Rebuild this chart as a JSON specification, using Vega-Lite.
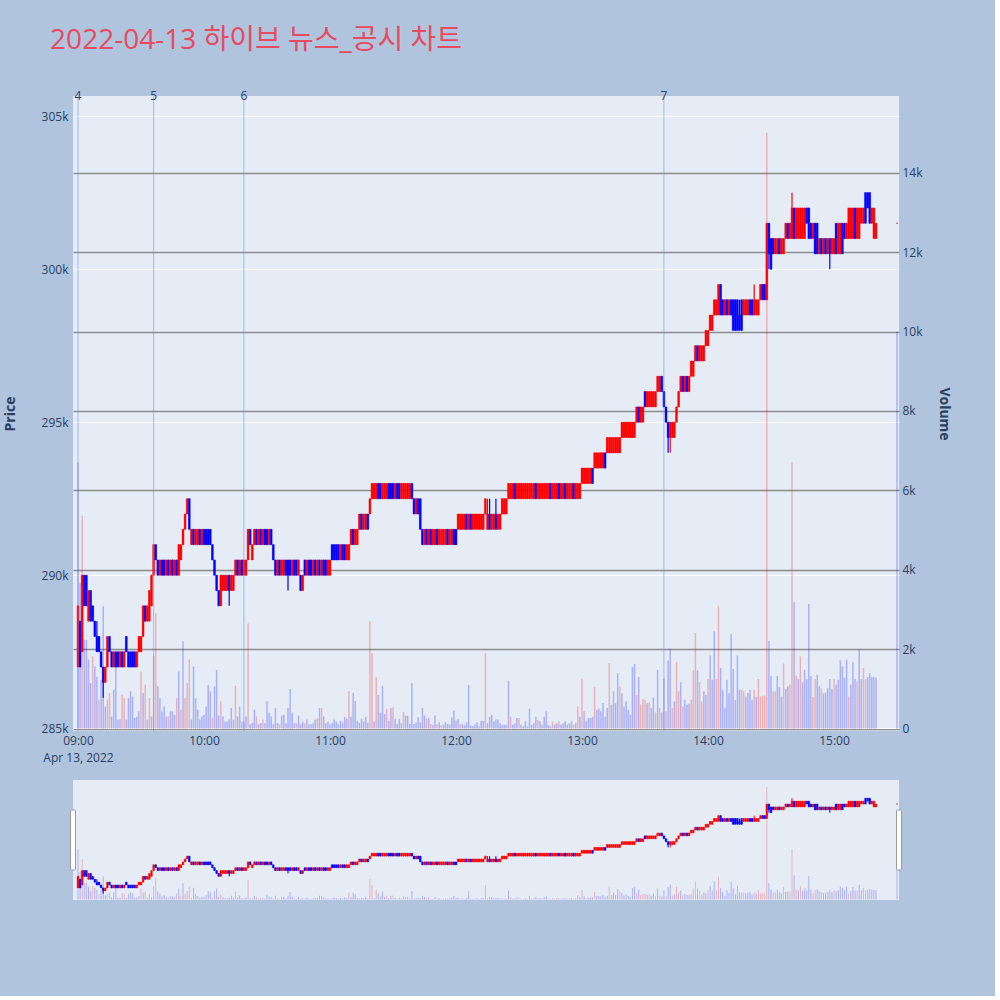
{
"$schema":"https://vega.github.io/schema/vega-lite/v6.json",
"background":"#B0C4DE",
"padding":{"left":3,"top":27,"right":44,"bottom":96},
"title":{"text":"2022-04-13 하이브 뉴스_공시 차트","anchor":"start","dx":47,"offset":35,"fontSize":28,"fontWeight":"normal","font":"Open Sans, Noto Sans CJK KR","color":"#E84A5F"},
"config":{"view":{"stroke":null},"axis":{"labelFont":"Open Sans","titleFont":"Open Sans","labelColor":"#2a3f5f","titleColor":"#2a3f5f","labelFontSize":12}},
"bounds":"flush",
"spacing":49,
"datasets":{
"news":[{"t":"09:00","n":"4"},{"t":"09:36","n":"5"},{"t":"10:19","n":"6"},{"t":"13:39","n":"7"}],
"handles":[{"t":"08:57:37"},{"t":"15:30:57"}],
"k":[
{"t":"09:00","o":287,"h":289,"l":287,"c":289,"v":6700},
{"t":"09:01","o":288.5,"h":288.5,"l":287,"c":287,"v":3660},
{"t":"09:02","o":287.5,"h":290,"l":287.5,"c":290,"v":5360,"u":1},
{"t":"09:03","o":290,"h":290,"l":289,"c":289,"v":2240},
{"t":"09:04","o":290,"h":290,"l":289,"c":289,"v":2240},
{"t":"09:05","o":288.5,"h":289.5,"l":288.5,"c":289.5,"v":1740},
{"t":"09:06","o":289.5,"h":289.5,"l":288.5,"c":288.5,"v":1150},
{"t":"09:07","o":289,"h":289,"l":288.5,"c":288.5,"v":1820,"u":1},
{"t":"09:08","o":288.5,"h":288.5,"l":288,"c":288,"v":1570},
{"t":"09:09","o":288,"h":288.5,"l":287.5,"c":287.5,"v":1310},
{"t":"09:10","o":288,"h":288,"l":287.5,"c":287.5,"v":730,"u":1},
{"t":"09:11","o":287.5,"h":287.5,"l":287,"c":287,"v":1230},
{"t":"09:12","o":287,"h":287,"l":286,"c":286.5,"v":3080},
{"t":"09:13","o":286.5,"h":287,"l":286.5,"c":287,"v":560},
{"t":"09:14","o":287,"h":288,"l":287,"c":288,"v":730,"u":1},
{"t":"09:15","o":288,"h":288,"l":287.5,"c":287.5,"v":900,"u":1},
{"t":"09:16","o":287.5,"h":287.5,"l":287,"c":287,"v":310},
{"t":"09:17","o":287,"h":287.5,"l":287,"c":287.5,"v":980},
{"t":"09:18","o":287.5,"h":287.5,"l":287,"c":287,"v":1570},
{"t":"09:19","o":287.5,"h":287.5,"l":287,"c":287,"v":230},
{"t":"09:20","o":287,"h":287.5,"l":287,"c":287.5,"v":230},
{"t":"09:21","o":287.5,"h":287.5,"l":287,"c":287,"v":860,"u":1},
{"t":"09:22","o":287,"h":287.5,"l":287,"c":287.5,"v":770,"u":1},
{"t":"09:23","o":288,"h":288,"l":287.5,"c":287.5,"v":230},
{"t":"09:24","o":287.5,"h":287.5,"l":287,"c":287,"v":770},
{"t":"09:25","o":287.5,"h":287.5,"l":287,"c":287,"v":940},
{"t":"09:26","o":287.5,"h":287.5,"l":287,"c":287,"v":810},
{"t":"09:27","o":287.5,"h":287.5,"l":287,"c":287,"v":270},
{"t":"09:28","o":287,"h":287.5,"l":287,"c":287.5,"v":310},
{"t":"09:29","o":287.5,"h":288,"l":287.5,"c":288,"v":440},
{"t":"09:30","o":287.5,"h":288,"l":287.5,"c":288,"v":1440,"u":1},
{"t":"09:31","o":288,"h":289,"l":288,"c":289,"v":900},
{"t":"09:32","o":289,"h":289,"l":288.5,"c":288.5,"v":1110,"u":1},
{"t":"09:33","o":288.5,"h":289,"l":288.5,"c":289,"v":230},
{"t":"09:34","o":288.5,"h":289.5,"l":288.5,"c":289.5,"v":770,"u":1},
{"t":"09:35","o":289,"h":290,"l":289,"c":290,"v":310},
{"t":"09:36","o":290,"h":291,"l":290,"c":291,"v":1840,"u":1},
{"t":"09:37","o":291,"h":291,"l":290.5,"c":290.5,"v":2900,"u":1},
{"t":"09:38","o":290.5,"h":290.5,"l":290,"c":290,"v":1070},
{"t":"09:39","o":290,"h":290.5,"l":290,"c":290.5,"v":770},
{"t":"09:40","o":290.5,"h":290.5,"l":290,"c":290,"v":440},
{"t":"09:41","o":290.5,"h":290.5,"l":290,"c":290,"v":560},
{"t":"09:42","o":290,"h":290.5,"l":290,"c":290.5,"v":310},
{"t":"09:43","o":290.5,"h":290.5,"l":290,"c":290,"v":310,"u":1},
{"t":"09:44","o":290,"h":290.5,"l":290,"c":290.5,"v":440},
{"t":"09:45","o":290.5,"h":290.5,"l":290,"c":290,"v":440},
{"t":"09:46","o":290,"h":290.5,"l":290,"c":290.5,"v":350},
{"t":"09:47","o":290.5,"h":290.5,"l":290,"c":290,"v":770,"u":1},
{"t":"09:48","o":290,"h":291,"l":290,"c":291,"v":1440},
{"t":"09:49","o":290.5,"h":291,"l":290.5,"c":291,"v":480,"u":1},
{"t":"09:50","o":291,"h":291.5,"l":291,"c":291.5,"v":2200},
{"t":"09:51","o":291.5,"h":292,"l":291.5,"c":292,"v":770,"u":1},
{"t":"09:52","o":292,"h":292.5,"l":292,"c":292.5,"v":1150,"u":1},
{"t":"09:53","o":292.5,"h":292.5,"l":291.5,"c":291.5,"v":1740,"u":1},
{"t":"09:54","o":291,"h":291.5,"l":291,"c":291.5,"v":230},
{"t":"09:55","o":291.5,"h":291.5,"l":291,"c":291,"v":1570},
{"t":"09:56","o":291,"h":291.5,"l":291,"c":291.5,"v":770},
{"t":"09:57","o":291,"h":291.5,"l":291,"c":291.5,"v":480},
{"t":"09:58","o":291.5,"h":291.5,"l":291,"c":291,"v":230},
{"t":"09:59","o":291,"h":291.5,"l":291,"c":291.5,"v":310},
{"t":"10:00","o":291.5,"h":291.5,"l":291,"c":291,"v":350},
{"t":"10:01","o":291.5,"h":291.5,"l":291,"c":291,"v":560},
{"t":"10:02","o":291.5,"h":291.5,"l":291,"c":291,"v":1100},
{"t":"10:03","o":291.5,"h":291.5,"l":291,"c":291,"v":940},
{"t":"10:04","o":291,"h":291,"l":290.5,"c":290.5,"v":270,"u":1},
{"t":"10:05","o":290.5,"h":290.5,"l":290,"c":290,"v":1060},
{"t":"10:06","o":290,"h":290,"l":289.5,"c":289.5,"v":1480},
{"t":"10:07","o":289.5,"h":289.5,"l":289,"c":289,"v":330},
{"t":"10:08","o":289,"h":290,"l":289,"c":290,"v":690,"u":1},
{"t":"10:09","o":289.5,"h":290,"l":289.5,"c":290,"v":310},
{"t":"10:10","o":289.5,"h":290,"l":289.5,"c":290,"v":180},
{"t":"10:11","o":289.5,"h":290,"l":289.5,"c":290,"v":180},
{"t":"10:12","o":290,"h":290,"l":289,"c":289.5,"v":230},
{"t":"10:13","o":289.5,"h":290,"l":289.5,"c":290,"v":520},
{"t":"10:14","o":289.5,"h":290,"l":289.5,"c":290,"v":230},
{"t":"10:15","o":290,"h":290.5,"l":290,"c":290.5,"v":1080,"u":1},
{"t":"10:16","o":290.5,"h":290.5,"l":290,"c":290,"v":310},
{"t":"10:17","o":290,"h":290.5,"l":290,"c":290.5,"v":560},
{"t":"10:18","o":290.5,"h":290.5,"l":290,"c":290,"v":180},
{"t":"10:19","o":290,"h":290.5,"l":290,"c":290.5,"v":180},
{"t":"10:20","o":290,"h":290.5,"l":290,"c":290.5,"v":310},
{"t":"10:21","o":290.5,"h":291.5,"l":290.5,"c":291.5,"v":2650,"u":1},
{"t":"10:22","o":291.5,"h":291.5,"l":291,"c":291,"v":110},
{"t":"10:23","o":290.5,"h":291,"l":290.5,"c":291,"v":140},
{"t":"10:24","o":291,"h":291.5,"l":291,"c":291.5,"v":480},
{"t":"10:25","o":291.5,"h":291.5,"l":291,"c":291,"v":310,"u":1},
{"t":"10:26","o":291,"h":291.5,"l":291,"c":291.5,"v":110},
{"t":"10:27","o":291.5,"h":291.5,"l":291,"c":291,"v":140},
{"t":"10:28","o":291,"h":291.5,"l":291,"c":291.5,"v":230,"u":1},
{"t":"10:29","o":291.5,"h":291.5,"l":291,"c":291,"v":140},
{"t":"10:30","o":291.5,"h":291.5,"l":291,"c":291,"v":690},
{"t":"10:31","o":291,"h":291.5,"l":291,"c":291.5,"v":400},
{"t":"10:32","o":291.5,"h":291.5,"l":291,"c":291,"v":310},
{"t":"10:33","o":291,"h":291,"l":290.5,"c":290.5,"v":110},
{"t":"10:34","o":290.5,"h":290.5,"l":290,"c":290,"v":520},
{"t":"10:35","o":290,"h":290.5,"l":290,"c":290.5,"v":140},
{"t":"10:36","o":290.5,"h":290.5,"l":290,"c":290,"v":110,"u":1},
{"t":"10:37","o":290,"h":290.5,"l":290,"c":290.5,"v":330},
{"t":"10:38","o":290,"h":290.5,"l":290,"c":290.5,"v":350},
{"t":"10:39","o":290.5,"h":290.5,"l":290,"c":290,"v":140},
{"t":"10:40","o":290.5,"h":290.5,"l":289.5,"c":290,"v":520},
{"t":"10:41","o":290.5,"h":290.5,"l":290,"c":290,"v":1000},
{"t":"10:42","o":290,"h":290.5,"l":290,"c":290.5,"v":400},
{"t":"10:43","o":290.5,"h":290.5,"l":290,"c":290,"v":140},
{"t":"10:44","o":290.5,"h":290.5,"l":290,"c":290,"v":140,"u":1},
{"t":"10:45","o":290,"h":290.5,"l":290,"c":290.5,"v":330},
{"t":"10:46","o":290,"h":290,"l":289.5,"c":289.5,"v":110},
{"t":"10:47","o":289.5,"h":290,"l":289.5,"c":290,"v":180},
{"t":"10:48","o":290.5,"h":290.5,"l":290,"c":290,"v":140,"u":1},
{"t":"10:49","o":290,"h":290.5,"l":290,"c":290.5,"v":230},
{"t":"10:50","o":290.5,"h":290.5,"l":290,"c":290,"v":110},
{"t":"10:51","o":290.5,"h":290.5,"l":290,"c":290,"v":110},
{"t":"10:52","o":290,"h":290.5,"l":290,"c":290.5,"v":140},
{"t":"10:53","o":290.5,"h":290.5,"l":290,"c":290,"v":230},
{"t":"10:54","o":290,"h":290.5,"l":290,"c":290.5,"v":260,"u":1},
{"t":"10:55","o":290.5,"h":290.5,"l":290,"c":290,"v":520},
{"t":"10:56","o":290,"h":290.5,"l":290,"c":290.5,"v":520,"u":1},
{"t":"10:57","o":290.5,"h":290.5,"l":290,"c":290,"v":310},
{"t":"10:58","o":290.5,"h":290.5,"l":290,"c":290,"v":140},
{"t":"10:59","o":290,"h":290.5,"l":290,"c":290.5,"v":180},
{"t":"11:00","o":290,"h":290.5,"l":290,"c":290.5,"v":110},
{"t":"11:01","o":291,"h":291,"l":290.5,"c":290.5,"v":140},
{"t":"11:02","o":291,"h":291,"l":290.5,"c":290.5,"v":230},
{"t":"11:03","o":291,"h":291,"l":290.5,"c":290.5,"v":180},
{"t":"11:04","o":291,"h":291,"l":290.5,"c":290.5,"v":110},
{"t":"11:05","o":290.5,"h":291,"l":290.5,"c":291,"v":200},
{"t":"11:06","o":291,"h":291,"l":290.5,"c":290.5,"v":150},
{"t":"11:07","o":291,"h":291,"l":290.5,"c":290.5,"v":300},
{"t":"11:08","o":290.5,"h":291,"l":290.5,"c":291,"v":250},
{"t":"11:09","o":290.5,"h":291,"l":290.5,"c":291,"v":950,"u":1},
{"t":"11:10","o":291,"h":291.5,"l":291,"c":291.5,"v":300},
{"t":"11:11","o":291.5,"h":291.5,"l":291,"c":291,"v":900},
{"t":"11:12","o":291,"h":291.5,"l":291,"c":291.5,"v":700},
{"t":"11:13","o":291,"h":291.5,"l":291,"c":291.5,"v":200},
{"t":"11:14","o":291.5,"h":292,"l":291.5,"c":292,"v":150},
{"t":"11:15","o":292,"h":292,"l":291.5,"c":291.5,"v":250},
{"t":"11:16","o":291.5,"h":292,"l":291.5,"c":292,"v":180},
{"t":"11:17","o":291.5,"h":292,"l":291.5,"c":292,"v":300},
{"t":"11:18","o":292,"h":292,"l":291.5,"c":291.5,"v":150},
{"t":"11:19","o":292,"h":292.5,"l":292,"c":292.5,"v":2700,"u":1},
{"t":"11:20","o":292.5,"h":293,"l":292.5,"c":293,"v":1900,"u":1},
{"t":"11:21","o":292.5,"h":293,"l":292.5,"c":293,"v":180},
{"t":"11:22","o":292.5,"h":293,"l":292.5,"c":293,"v":1300,"u":1},
{"t":"11:23","o":293,"h":293,"l":292.5,"c":292.5,"v":850},
{"t":"11:24","o":293,"h":293,"l":292.5,"c":292.5,"v":400},
{"t":"11:25","o":292.5,"h":293,"l":292.5,"c":293,"v":1070},
{"t":"11:26","o":292.5,"h":293,"l":292.5,"c":293,"v":370},
{"t":"11:27","o":292.5,"h":293,"l":292.5,"c":293,"v":500,"u":1},
{"t":"11:28","o":293,"h":293,"l":292.5,"c":292.5,"v":200},
{"t":"11:29","o":293,"h":293,"l":292.5,"c":292.5,"v":520},
{"t":"11:30","o":293,"h":293,"l":292.5,"c":292.5,"v":540,"u":1},
{"t":"11:31","o":292.5,"h":293,"l":292.5,"c":293,"v":250},
{"t":"11:32","o":293,"h":293,"l":292.5,"c":292.5,"v":120},
{"t":"11:33","o":293,"h":293,"l":292.5,"c":292.5,"v":250},
{"t":"11:34","o":292.5,"h":293,"l":292.5,"c":293,"v":140},
{"t":"11:35","o":292.5,"h":293,"l":292.5,"c":293,"v":420,"u":1},
{"t":"11:36","o":292.5,"h":293,"l":292.5,"c":293,"v":330},
{"t":"11:37","o":292.5,"h":293,"l":292.5,"c":293,"v":330},
{"t":"11:38","o":292.5,"h":293,"l":292.5,"c":293,"v":120},
{"t":"11:39","o":293,"h":293,"l":292.5,"c":292.5,"v":1150},
{"t":"11:40","o":292.5,"h":292.5,"l":292,"c":292,"v":120},
{"t":"11:41","o":292,"h":292.5,"l":292,"c":292.5,"v":160},
{"t":"11:42","o":292.5,"h":292.5,"l":292,"c":292,"v":290},
{"t":"11:43","o":292.5,"h":292.5,"l":291.5,"c":291.5,"v":160},
{"t":"11:44","o":291.5,"h":291.5,"l":291,"c":291,"v":520},
{"t":"11:45","o":291,"h":291.5,"l":291,"c":291.5,"v":330},
{"t":"11:46","o":291.5,"h":291.5,"l":291,"c":291,"v":250,"u":1},
{"t":"11:47","o":291,"h":291.5,"l":291,"c":291.5,"v":270},
{"t":"11:48","o":291.5,"h":291.5,"l":291,"c":291,"v":120,"u":1},
{"t":"11:49","o":291,"h":291.5,"l":291,"c":291.5,"v":90},
{"t":"11:50","o":291,"h":291.5,"l":291,"c":291.5,"v":340},
{"t":"11:51","o":291.5,"h":291.5,"l":291,"c":291,"v":110,"u":1},
{"t":"11:52","o":291,"h":291.5,"l":291,"c":291.5,"v":160},
{"t":"11:53","o":291,"h":291.5,"l":291,"c":291.5,"v":90,"u":1},
{"t":"11:54","o":291,"h":291.5,"l":291,"c":291.5,"v":110},
{"t":"11:55","o":291,"h":291.5,"l":291,"c":291.5,"v":160},
{"t":"11:56","o":291.5,"h":291.5,"l":291,"c":291,"v":120},
{"t":"11:57","o":291,"h":291.5,"l":291,"c":291.5,"v":110},
{"t":"11:58","o":291,"h":291.5,"l":291,"c":291.5,"v":280},
{"t":"11:59","o":291.5,"h":291.5,"l":291,"c":291,"v":460},
{"t":"12:00","o":291.5,"h":291.5,"l":291,"c":291,"v":200},
{"t":"12:01","o":291.5,"h":292,"l":291.5,"c":292,"v":240},
{"t":"12:02","o":291.5,"h":292,"l":291.5,"c":292,"v":110,"u":1},
{"t":"12:03","o":291.5,"h":292,"l":291.5,"c":292,"v":120},
{"t":"12:04","o":291.5,"h":292,"l":291.5,"c":292,"v":90},
{"t":"12:05","o":292,"h":292,"l":291.5,"c":291.5,"v":160},
{"t":"12:06","o":291.5,"h":292,"l":291.5,"c":292,"v":1100},
{"t":"12:07","o":292,"h":292,"l":291.5,"c":291.5,"v":80},
{"t":"12:08","o":291.5,"h":292,"l":291.5,"c":292,"v":60},
{"t":"12:09","o":291.5,"h":292,"l":291.5,"c":292,"v":110},
{"t":"12:10","o":291.5,"h":292,"l":291.5,"c":292,"v":160},
{"t":"12:11","o":291.5,"h":292,"l":291.5,"c":292,"v":60},
{"t":"12:12","o":291.5,"h":292,"l":291.5,"c":292,"v":200},
{"t":"12:13","o":291.5,"h":292,"l":291.5,"c":292,"v":200},
{"t":"12:14","o":292,"h":292.5,"l":292,"c":292.5,"v":1900,"u":1},
{"t":"12:15","o":291.5,"h":292.5,"l":291.5,"c":292,"v":140},
{"t":"12:16","o":292,"h":292.5,"l":291.5,"c":291.5,"v":300},
{"t":"12:17","o":291.5,"h":292,"l":291.5,"c":292,"v":350},
{"t":"12:18","o":291.5,"h":292,"l":291.5,"c":292,"v":190},
{"t":"12:19","o":292,"h":292.5,"l":291.5,"c":291.5,"v":230},
{"t":"12:20","o":291.5,"h":292,"l":291.5,"c":292,"v":230},
{"t":"12:21","o":291.5,"h":292,"l":291.5,"c":292,"v":140},
{"t":"12:22","o":292,"h":292.5,"l":292,"c":292.5,"v":100},
{"t":"12:23","o":292,"h":292.5,"l":292,"c":292.5,"v":100},
{"t":"12:24","o":292,"h":292.5,"l":292,"c":292.5,"v":100},
{"t":"12:25","o":292.5,"h":293,"l":292.5,"c":293,"v":1200},
{"t":"12:26","o":292.5,"h":293,"l":292.5,"c":293,"v":300,"u":1},
{"t":"12:27","o":292.5,"h":293,"l":292.5,"c":293,"v":100},
{"t":"12:28","o":293,"h":293,"l":292.5,"c":292.5,"v":140},
{"t":"12:29","o":292.5,"h":293,"l":292.5,"c":293,"v":270},
{"t":"12:30","o":292.5,"h":293,"l":292.5,"c":293,"v":270,"u":1},
{"t":"12:31","o":292.5,"h":293,"l":292.5,"c":293,"v":100},
{"t":"12:32","o":292.5,"h":293,"l":292.5,"c":293,"v":60},
{"t":"12:33","o":292.5,"h":293,"l":292.5,"c":293,"v":190},
{"t":"12:34","o":292.5,"h":293,"l":292.5,"c":293,"v":60},
{"t":"12:35","o":292.5,"h":293,"l":292.5,"c":293,"v":510},
{"t":"12:36","o":292.5,"h":293,"l":292.5,"c":293,"v":100},
{"t":"12:37","o":292.5,"h":293,"l":292.5,"c":293,"v":140},
{"t":"12:38","o":293,"h":293,"l":292.5,"c":292.5,"v":300},
{"t":"12:39","o":292.5,"h":293,"l":292.5,"c":293,"v":220,"u":1},
{"t":"12:40","o":292.5,"h":293,"l":292.5,"c":293,"v":190},
{"t":"12:41","o":292.5,"h":293,"l":292.5,"c":293,"v":100},
{"t":"12:42","o":292.5,"h":293,"l":292.5,"c":293,"v":300},
{"t":"12:43","o":292.5,"h":293,"l":292.5,"c":293,"v":440},
{"t":"12:44","o":292.5,"h":293,"l":292.5,"c":293,"v":100},
{"t":"12:45","o":293,"h":293,"l":292.5,"c":292.5,"v":60},
{"t":"12:46","o":292.5,"h":293,"l":292.5,"c":293,"v":190,"u":1},
{"t":"12:47","o":292.5,"h":293,"l":292.5,"c":293,"v":100},
{"t":"12:48","o":292.5,"h":293,"l":292.5,"c":293,"v":140},
{"t":"12:49","o":293,"h":293,"l":292.5,"c":292.5,"v":190,"u":1},
{"t":"12:50","o":292.5,"h":293,"l":292.5,"c":293,"v":100},
{"t":"12:51","o":292.5,"h":293,"l":292.5,"c":293,"v":140},
{"t":"12:52","o":293,"h":293,"l":292.5,"c":292.5,"v":190},
{"t":"12:53","o":292.5,"h":293,"l":292.5,"c":293,"v":100},
{"t":"12:54","o":292.5,"h":293,"l":292.5,"c":293,"v":140},
{"t":"12:55","o":292.5,"h":293,"l":292.5,"c":293,"v":190},
{"t":"12:56","o":293,"h":293,"l":292.5,"c":292.5,"v":100,"u":1},
{"t":"12:57","o":292.5,"h":293,"l":292.5,"c":293,"v":140},
{"t":"12:58","o":292.5,"h":293,"l":292.5,"c":293,"v":560,"u":1},
{"t":"12:59","o":292.5,"h":293,"l":292.5,"c":293,"v":300},
{"t":"13:00","o":293,"h":293.5,"l":293,"c":293.5,"v":1260,"u":1},
{"t":"13:01","o":293,"h":293.5,"l":293,"c":293.5,"v":440},
{"t":"13:02","o":293,"h":293.5,"l":293,"c":293.5,"v":190},
{"t":"13:03","o":293,"h":293.5,"l":293,"c":293.5,"v":270},
{"t":"13:04","o":293,"h":293.5,"l":293,"c":293.5,"v":270},
{"t":"13:05","o":293.5,"h":293.5,"l":293,"c":293,"v":300},
{"t":"13:06","o":293.5,"h":294,"l":293.5,"c":294,"v":1050,"u":1},
{"t":"13:07","o":293.5,"h":294,"l":293.5,"c":294,"v":470},
{"t":"13:08","o":293.5,"h":294,"l":293.5,"c":294,"v":510},
{"t":"13:09","o":293.5,"h":294,"l":293.5,"c":294,"v":440},
{"t":"13:10","o":293.5,"h":294,"l":293.5,"c":294,"v":650},
{"t":"13:11","o":294,"h":294,"l":293.5,"c":293.5,"v":300},
{"t":"13:12","o":294,"h":294.5,"l":294,"c":294.5,"v":520},
{"t":"13:13","o":294,"h":294.5,"l":294,"c":294.5,"v":1650,"u":1},
{"t":"13:14","o":294,"h":294.5,"l":294,"c":294.5,"v":600},
{"t":"13:15","o":294,"h":294.5,"l":294,"c":294.5,"v":940},
{"t":"13:16","o":294,"h":294.5,"l":294,"c":294.5,"v":640},
{"t":"13:17","o":294,"h":294.5,"l":294,"c":294.5,"v":1400},
{"t":"13:18","o":294,"h":294.5,"l":294,"c":294.5,"v":1060,"u":1},
{"t":"13:19","o":294.5,"h":295,"l":294.5,"c":295,"v":890},
{"t":"13:20","o":294.5,"h":295,"l":294.5,"c":295,"v":560},
{"t":"13:21","o":294.5,"h":295,"l":294.5,"c":295,"v":690},
{"t":"13:22","o":294.5,"h":295,"l":294.5,"c":295,"v":480},
{"t":"13:23","o":294.5,"h":295,"l":294.5,"c":295,"v":350},
{"t":"13:24","o":294.5,"h":295,"l":294.5,"c":295,"v":1550},
{"t":"13:25","o":294.5,"h":295,"l":294.5,"c":295,"v":1630},
{"t":"13:26","o":295,"h":295.5,"l":295,"c":295.5,"v":850,"u":1},
{"t":"13:27","o":295.5,"h":295.5,"l":295,"c":295,"v":1300},
{"t":"13:28","o":295,"h":295.5,"l":295,"c":295.5,"v":600,"u":1},
{"t":"13:29","o":295,"h":295.5,"l":295,"c":295.5,"v":750,"u":1},
{"t":"13:30","o":296,"h":296,"l":295.5,"c":295.5,"v":730,"u":1},
{"t":"13:31","o":295.5,"h":296,"l":295.5,"c":296,"v":650},
{"t":"13:32","o":295.5,"h":296,"l":295.5,"c":296,"v":660,"u":1},
{"t":"13:33","o":295.5,"h":296,"l":295.5,"c":296,"v":520},
{"t":"13:34","o":295.5,"h":296,"l":295.5,"c":296,"v":790},
{"t":"13:35","o":295.5,"h":296,"l":295.5,"c":296,"v":410,"u":1},
{"t":"13:36","o":296,"h":296.5,"l":296,"c":296.5,"v":1480},
{"t":"13:37","o":296,"h":296.5,"l":296,"c":296.5,"v":520,"u":1},
{"t":"13:38","o":296.5,"h":296.5,"l":296,"c":296,"v":410},
{"t":"13:39","o":296,"h":296,"l":295.5,"c":295.5,"v":1250},
{"t":"13:40","o":295.5,"h":295.5,"l":295,"c":295,"v":440,"u":1},
{"t":"13:41","o":295,"h":295,"l":294,"c":294.5,"v":1720},
{"t":"13:42","o":294.5,"h":295,"l":294,"c":295,"v":2010},
{"t":"13:43","o":294.5,"h":295,"l":294.5,"c":295,"v":520,"u":1},
{"t":"13:44","o":294.5,"h":295,"l":294.5,"c":295,"v":690},
{"t":"13:45","o":295,"h":295.5,"l":295,"c":295.5,"v":1670,"u":1},
{"t":"13:46","o":295.5,"h":296,"l":295.5,"c":296,"v":940,"u":1},
{"t":"13:47","o":296,"h":296.5,"l":296,"c":296.5,"v":1170},
{"t":"13:48","o":296.5,"h":296.5,"l":296,"c":296,"v":560,"u":1},
{"t":"13:49","o":296,"h":296.5,"l":296,"c":296.5,"v":730},
{"t":"13:50","o":296.5,"h":296.5,"l":296,"c":296,"v":600},
{"t":"13:51","o":296,"h":296.5,"l":296,"c":296.5,"v":630},
{"t":"13:52","o":296.5,"h":297,"l":296.5,"c":297,"v":730,"u":1},
{"t":"13:53","o":296.5,"h":297,"l":296.5,"c":297,"v":1470,"u":1},
{"t":"13:54","o":297,"h":297.5,"l":297,"c":297.5,"v":2410,"u":1},
{"t":"13:55","o":297.5,"h":297.5,"l":297,"c":297,"v":1470},
{"t":"13:56","o":297,"h":297.5,"l":297,"c":297.5,"v":1170,"u":1},
{"t":"13:57","o":297,"h":297.5,"l":297,"c":297.5,"v":690,"u":1},
{"t":"13:58","o":297,"h":297.5,"l":297,"c":297.5,"v":940},
{"t":"13:59","o":297.5,"h":298,"l":297.5,"c":298,"v":850},
{"t":"14:00","o":297.5,"h":298,"l":297.5,"c":298,"v":1250,"u":1},
{"t":"14:01","o":298,"h":298.5,"l":298,"c":298.5,"v":1840},
{"t":"14:02","o":298,"h":298.5,"l":298,"c":298.5,"v":1230},
{"t":"14:03","o":298.5,"h":299,"l":298.5,"c":299,"v":2450},
{"t":"14:04","o":298.5,"h":299,"l":298.5,"c":299,"v":1250,"u":1},
{"t":"14:05","o":298.5,"h":299.5,"l":298.5,"c":299.5,"v":3080,"u":1},
{"t":"14:06","o":299.5,"h":299.5,"l":298.5,"c":298.5,"v":1530},
{"t":"14:07","o":299,"h":299,"l":298.5,"c":298.5,"v":980},
{"t":"14:08","o":298.5,"h":299,"l":298.5,"c":299,"v":520},
{"t":"14:09","o":299,"h":299,"l":298.5,"c":298.5,"v":1230},
{"t":"14:10","o":298.5,"h":299,"l":298.5,"c":299,"v":890},
{"t":"14:11","o":299,"h":299,"l":298.5,"c":298.5,"v":2380},
{"t":"14:12","o":299,"h":299,"l":298,"c":298,"v":1500},
{"t":"14:13","o":299,"h":299,"l":298,"c":298,"v":720},
{"t":"14:14","o":299,"h":299,"l":298,"c":298,"v":1840},
{"t":"14:15","o":298.5,"h":299,"l":298,"c":298,"v":980},
{"t":"14:16","o":299,"h":299,"l":298,"c":298,"v":980,"u":1},
{"t":"14:17","o":298.5,"h":299,"l":298.5,"c":299,"v":940,"u":1},
{"t":"14:18","o":298.5,"h":299,"l":298.5,"c":299,"v":810},
{"t":"14:19","o":298.5,"h":299,"l":298.5,"c":299,"v":900},
{"t":"14:20","o":299,"h":299,"l":298.5,"c":298.5,"v":980},
{"t":"14:21","o":299,"h":299,"l":298.5,"c":298.5,"v":720},
{"t":"14:22","o":298.5,"h":299.5,"l":298.5,"c":299,"v":980,"u":1},
{"t":"14:23","o":298.5,"h":299,"l":298.5,"c":299,"v":800},
{"t":"14:24","o":298.5,"h":299,"l":298.5,"c":299,"v":1250,"u":1},
{"t":"14:25","o":299,"h":299.5,"l":299,"c":299.5,"v":810,"u":1},
{"t":"14:26","o":299.5,"h":299.5,"l":299,"c":299,"v":830,"u":1},
{"t":"14:27","o":299.5,"h":299.5,"l":299,"c":299,"v":830,"u":1},
{"t":"14:28","o":299,"h":301.5,"l":299,"c":301.5,"v":15000,"u":1},
{"t":"14:29","o":301.5,"h":301.5,"l":300,"c":300.5,"v":2210},
{"t":"14:30","o":301,"h":301,"l":300,"c":300,"v":1330},
{"t":"14:31","o":301,"h":301,"l":300.5,"c":300.5,"v":940,"u":1},
{"t":"14:32","o":300.5,"h":301,"l":300.5,"c":301,"v":940,"u":1},
{"t":"14:33","o":300.5,"h":301,"l":300.5,"c":301,"v":1330},
{"t":"14:34","o":301,"h":301,"l":300.5,"c":300.5,"v":1040},
{"t":"14:35","o":300.5,"h":301,"l":300.5,"c":301,"v":810},
{"t":"14:36","o":300.5,"h":301,"l":300.5,"c":301,"v":1640,"u":1},
{"t":"14:37","o":301,"h":301.5,"l":301,"c":301.5,"v":1000},
{"t":"14:38","o":301.5,"h":301.5,"l":301,"c":301,"v":1070},
{"t":"14:39","o":301,"h":301.5,"l":301,"c":301.5,"v":1110,"u":1},
{"t":"14:40","o":301,"h":302.5,"l":301,"c":302,"v":6700,"u":1},
{"t":"14:41","o":302,"h":302,"l":301,"c":301,"v":3190},
{"t":"14:42","o":301,"h":302,"l":301,"c":302,"v":1330,"u":1},
{"t":"14:43","o":301,"h":302,"l":301,"c":302,"v":1250},
{"t":"14:44","o":301,"h":302,"l":301,"c":302,"v":1820,"u":1},
{"t":"14:45","o":301,"h":302,"l":301,"c":302,"v":1170},
{"t":"14:46","o":301,"h":302,"l":301,"c":302,"v":1480},
{"t":"14:47","o":302,"h":302,"l":301.5,"c":301.5,"v":1250},
{"t":"14:48","o":302,"h":302,"l":301,"c":301,"v":3140},
{"t":"14:49","o":301.5,"h":301.5,"l":301,"c":301,"v":1330},
{"t":"14:50","o":301,"h":301.5,"l":301,"c":301.5,"v":800,"u":1},
{"t":"14:51","o":301.5,"h":301.5,"l":300.5,"c":300.5,"v":1250,"u":1},
{"t":"14:52","o":301.5,"h":301.5,"l":300.5,"c":300.5,"v":1360},
{"t":"14:53","o":300.5,"h":301,"l":300.5,"c":301,"v":1070},
{"t":"14:54","o":301,"h":301,"l":300.5,"c":300.5,"v":1020,"u":1},
{"t":"14:55","o":300.5,"h":301,"l":300.5,"c":301,"v":890},
{"t":"14:56","o":301,"h":301,"l":300.5,"c":300.5,"v":910},
{"t":"14:57","o":300.5,"h":301,"l":300.5,"c":301,"v":1020},
{"t":"14:58","o":301,"h":301,"l":300,"c":300.5,"v":1250},
{"t":"14:59","o":300.5,"h":301,"l":300.5,"c":301,"v":1000},
{"t":"15:00","o":300.5,"h":301,"l":300.5,"c":301,"v":1250,"u":1},
{"t":"15:01","o":301.5,"h":301.5,"l":300.5,"c":300.5,"v":1110},
{"t":"15:02","o":300.5,"h":301.5,"l":300.5,"c":301.5,"v":1230},
{"t":"15:03","o":300.5,"h":301.5,"l":300.5,"c":301.5,"v":1720},
{"t":"15:04","o":301.5,"h":301.5,"l":300.5,"c":300.5,"v":1570},
{"t":"15:05","o":301.5,"h":301.5,"l":301,"c":301,"v":1280},
{"t":"15:06","o":301,"h":301.5,"l":301,"c":301.5,"v":1740},
{"t":"15:07","o":301,"h":302,"l":301,"c":302,"v":810,"u":1},
{"t":"15:08","o":301,"h":302,"l":301,"c":302,"v":1110},
{"t":"15:09","o":301,"h":302,"l":301,"c":302,"v":1670},
{"t":"15:10","o":302,"h":302,"l":301,"c":301,"v":1250},
{"t":"15:11","o":301,"h":302,"l":301,"c":302,"v":1190,"u":1},
{"t":"15:12","o":301,"h":302,"l":301,"c":302,"v":1990},
{"t":"15:13","o":301.5,"h":302,"l":301.5,"c":302,"v":1250},
{"t":"15:14","o":301.5,"h":302,"l":301.5,"c":302,"v":1530,"u":1},
{"t":"15:15","o":302.5,"h":302.5,"l":301.5,"c":301.5,"v":1250,"u":1},
{"t":"15:16","o":302.5,"h":302.5,"l":302,"c":302,"v":1300},
{"t":"15:17","o":302.5,"h":302.5,"l":301.5,"c":301.5,"v":1400},
{"t":"15:18","o":301.5,"h":302,"l":301.5,"c":302,"v":1300},
{"t":"15:19","o":301,"h":302,"l":301,"c":302,"v":1300},
{"t":"15:20","o":301,"h":301.5,"l":301,"c":301.5,"v":1280},
{"t":"15:30","o":301.5,"h":301.5,"l":301.5,"c":301.5,"v":10000}
]},
"data":{"name":"k","format":{"parse":{"t":"date:'%H:%M'"}}},
"vconcat":[
{
"width":826,"height":635,
"view":{"fill":"#E5ECF6","stroke":null},
"layer":[
{"mark":{"type":"bar","size":1.5,"opacity":0.25},
"encoding":{
"x":{"field":"t","type":"temporal","title":null,
"scale":{"padding":0,"nice":false,"domain":[{"year":1900,"month":1,"date":1,"hours":8,"minutes":57,"seconds":37},{"year":1900,"month":1,"date":1,"hours":15,"minutes":30,"seconds":57}]},
"axis":{"values":[{"year":1900,"month":1,"date":1,"hours":9},{"year":1900,"month":1,"date":1,"hours":10},{"year":1900,"month":1,"date":1,"hours":11},{"year":1900,"month":1,"date":1,"hours":12},{"year":1900,"month":1,"date":1,"hours":13},{"year":1900,"month":1,"date":1,"hours":14},{"year":1900,"month":1,"date":1,"hours":15}],
"labelExpr":"hours(datum.value) == 9 ? ['09:00', 'Apr 13, 2022'] : timeFormat(datum.value, '%H:%M')",
"grid":false,"ticks":false,"domain":false,"labelPadding":4,"labelLineHeight":17,"labelFlush":false}},
"y":{"field":"v","type":"quantitative","scale":{"domain":[-58,15931],"nice":false,"zero":false},
"axis":{"orient":"right","values":[0,2000,4000,6000,8000,10000,12000,14000],"labelExpr":"datum.value == 0 ? '0' : (datum.value / 1000) + 'k'","grid":true,"gridColor":"#8c8c8c","gridWidth":1.3,"ticks":false,"domain":false,"labelPadding":3,"title":"Volume","titleFontSize":14,"titleFontWeight":"bold","titlePadding":14}},
"color":{"condition":{"test":"datum.u == 1","value":"#FF0000"},"value":"#0000FF"}}},
{"layer":[
{"mark":{"type":"rule","strokeWidth":1.2},
"encoding":{"x":{"field":"t","type":"temporal"},
"y":{"field":"l","type":"quantitative","scale":{"domain":[284.912,305.657],"nice":false,"zero":false},
"axis":{"orient":"left","values":[285,290,295,300,305],"labelExpr":"datum.value + 'k'","grid":true,"gridColor":"#FFFFFF","gridWidth":1,"ticks":false,"domain":false,"labelPadding":5,"title":"Price","titleFontSize":14,"titleFontWeight":"bold","titlePadding":24}},
"y2":{"field":"h"},
"color":{"condition":{"test":"datum.c >= datum.o","value":"#FF0000"},"value":"#0000FF"}}},
{"mark":{"type":"bar","size":1.8,"strokeWidth":0.5},
"encoding":{"x":{"field":"t","type":"temporal"},
"y":{"field":"o","type":"quantitative"},"y2":{"field":"c"},
"color":{"condition":{"test":"datum.c >= datum.o","value":"#FF0000"},"value":"#0000FF"},
"stroke":{"condition":{"test":"datum.c >= datum.o","value":"#FF0000"},"value":"#0000FF"}}},
{"data":{"name":"news","format":{"parse":{"t":"date:'%H:%M'"}}},
"mark":{"type":"rule","color":"#6E8BF5","opacity":0.55,"strokeWidth":1},
"encoding":{"x":{"field":"t","type":"temporal"}}},
{"data":{"name":"news","format":{"parse":{"t":"date:'%H:%M'"}}},
"mark":{"type":"text","fontSize":12,"font":"Open Sans","color":"#2a3f5f","baseline":"middle","align":"center"},
"encoding":{"x":{"field":"t","type":"temporal"},"y":{"datum":305.657,"type":"quantitative"},"text":{"field":"n"}}}
]}
],
"resolve":{"scale":{"y":"independent"}}
},
{
"width":826,"height":120,
"view":{"fill":"#E5ECF6","stroke":null},
"layer":[
{"mark":{"type":"bar","size":1,"opacity":0.25},
"encoding":{
"x":{"field":"t","type":"temporal","axis":null,
"scale":{"padding":0,"nice":false,"domain":[{"year":1900,"month":1,"date":1,"hours":8,"minutes":57,"seconds":37},{"year":1900,"month":1,"date":1,"hours":15,"minutes":30,"seconds":57}]}},
"y":{"field":"v","type":"quantitative","axis":null,"scale":{"domain":[-58,15931],"nice":false,"zero":false}},
"color":{"condition":{"test":"datum.u == 1","value":"#FF0000"},"value":"#0000FF"}}},
{"layer":[
{"mark":{"type":"rule","strokeWidth":1},
"encoding":{"x":{"field":"t","type":"temporal","axis":null},
"y":{"field":"l","type":"quantitative","axis":null,"scale":{"domain":[284.912,305.657],"nice":false,"zero":false}},
"y2":{"field":"h"},
"color":{"condition":{"test":"datum.c >= datum.o","value":"#FF0000"},"value":"#0000FF"}}},
{"mark":{"type":"bar","size":1.6,"strokeWidth":0.5},
"encoding":{"x":{"field":"t","type":"temporal","axis":null},
"y":{"field":"o","type":"quantitative","axis":null},"y2":{"field":"c"},
"color":{"condition":{"test":"datum.c >= datum.o","value":"#FF0000"},"value":"#0000FF"},
"stroke":{"condition":{"test":"datum.c >= datum.o","value":"#FF0000"},"value":"#0000FF"}}},
{"data":{"name":"handles","format":{"parse":{"t":"date:'%H:%M:%S'"}}},
"mark":{"type":"bar","size":5,"fill":"#FFFFFF","stroke":"#999999","strokeWidth":1,"cornerRadius":1},
"encoding":{"x":{"field":"t","type":"temporal","axis":null},"y":{"datum":290.1,"type":"quantitative"},"y2":{"datum":300.47}}}
]}
],
"resolve":{"scale":{"y":"independent"}}
}
]
}
